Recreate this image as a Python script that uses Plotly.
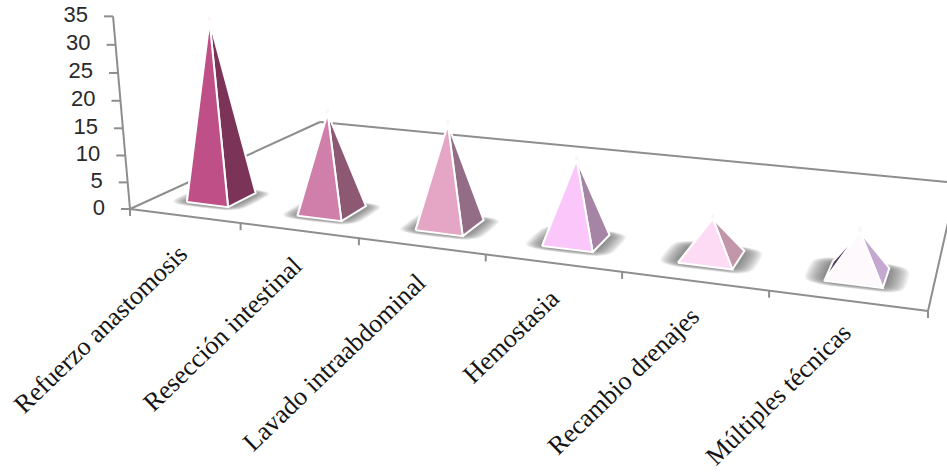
import numpy as np
import plotly.graph_objects as go

# Chart data
categories = ["Refuerzo anastomosis", "Resección intestinal", "Lavado intraabdominal",
              "Hemostasia", "Recambio drenajes", "Múltiples técnicas"]
values = [33, 18, 18, 14, 6.5, 7]
value_ticks = [0, 5, 10, 15, 20, 25, 30, 35]

# Face colours per pyramid
front_colors = ["#BE5087", "#D07FAA", "#E5A5C5", "#FBC6F9", "#FDDBF5", "#FEF9FD"]
side_colors = ["#7C3358", "#8C5872", "#936C85", "#A684A5", "#C296A9", "#C4A8CF"]
back_colors = ["#5A2540", "#5E3A4E", "#6A4A5E", "#705A70", "#806878", "#5A3F62"]

W, H = 947, 473
AXIS_COLOR = "#8E8E8E"

# Perspective set-up: floor corners and the vanishing point of the value direction
p00 = np.array([130.0, 209.0])
p10 = np.array([928.0, 311.0])
p01 = np.array([320.0, 122.0])
p11 = np.array([957.0, 183.0])
Z_VANISH = np.array([553.0, 5020.0])
Z_STRENGTH = -0.0011


def _det(a, b):
    return a[0] * b[1] - a[1] * b[0]


d1 = p10 - p11
d2 = p01 - p11
s = p00 - p10 + p11 - p01
den = _det(d1, d2)
g = _det(s, d2) / den
h = _det(d1, s) / den
A = p10 * (1 + g) - p00
B = p01 * (1 + h) - p00


def project(u, v, z=0.0):
    """Map category position u (0..1), depth v (0..1) and value z to the plane."""
    w = 1 + g * u + h * v + Z_STRENGTH * z
    xy = p00 + A * u + B * v + Z_VANISH * Z_STRENGTH * z
    return xy / w


def poly(points, fill, line_color=None, line_width=0):
    xs = [p[0] for p in points] + [points[0][0]]
    ys = [p[1] for p in points] + [points[0][1]]
    return go.Scatter(
        x=xs, y=ys, mode="lines", fill="toself", fillcolor=fill,
        line=dict(color=line_color or "rgba(0,0,0,0)", width=line_width),
        hoverinfo="skip", showlegend=False,
    )


def segment(a, b, color=AXIS_COLOR, width=2):
    return go.Scatter(
        x=[a[0], b[0]], y=[a[1], b[1]], mode="lines",
        line=dict(color=color, width=width),
        hoverinfo="skip", showlegend=False,
    )


fig = go.Figure()

# Floor outline
for a, b in [((0, 0), (1, 0)), ((0, 0), (0, 1)), ((0, 1), (1, 1)), ((1, 0), (1, 1))]:
    fig.add_trace(segment(project(*a), project(*b)))

# Value axis with its ticks
fig.add_trace(segment(project(0, 0), project(0, 0, value_ticks[-1])))
for t in value_ticks:
    p = project(0, 0, t)
    fig.add_trace(segment(p, p + np.array([-9, 0])))
fig.add_trace(go.Scatter(
    x=[project(0, 0, t)[0] - 25 for t in value_ticks],
    y=[project(0, 0, t)[1] for t in value_ticks],
    mode="text", text=[str(t) for t in value_ticks], textposition="middle left",
    textfont=dict(family="Liberation Sans", size=22, color="#2A2A2A"),
    hoverinfo="skip", showlegend=False,
))

# Category ticks along the front edge
n = len(categories)
for i in range(n + 1):
    p = project(i / n, 0)
    fig.add_trace(segment(p, p + np.array([0, 7])))

HALF_U = 0.19 / n
V_CENTER = 0.17
HALF_V = 0.067

# Soft shadows on the floor: stacked translucent rounded outlines
theta = np.linspace(0, 2 * np.pi, 32, endpoint=False)
for i in range(n):
    uc = (i + 0.5) / n
    for k in np.linspace(1.75, 1.0, 16):
        hu, hv = HALF_U * k, HALF_V * (0.55 + 0.5 * k)
        c, sn = np.cos(theta), np.sin(theta)
        outline = [
            project(uc + hu * np.sign(a) * abs(a) ** 0.45, V_CENTER + hv * np.sign(b) * abs(b) ** 0.45)
            for a, b in zip(c, sn)
        ]
        fig.add_trace(poly(outline, "rgba(80,80,80,0.07)"))

# Pyramids, back faces first
for i in range(n):
    uc = (i + 0.5) / n
    fl = project(uc - HALF_U, V_CENTER - HALF_V)
    fr = project(uc + HALF_U, V_CENTER - HALF_V)
    br = project(uc + HALF_U, V_CENTER + HALF_V)
    bl = project(uc - HALF_U, V_CENTER + HALF_V)
    apex = project(uc, V_CENTER, values[i])
    fig.add_trace(poly([fl, bl, apex], back_colors[i], "white", 2))
    fig.add_trace(poly([fr, br, apex], side_colors[i], "white", 2))
    fig.add_trace(poly([fl, fr, apex], front_colors[i], "white", 2))
    # Pale highlight running off the tip
    fig.add_trace(segment(apex, project(uc, V_CENTER, values[i] + 0.8), "#FBF4F8", 3))

# Slanted category labels
label_centers = [(100, 329), (222, 334), (334, 362), (511, 336), (623, 381), (778, 394)]
for name, (cx, cy) in zip(categories, label_centers):
    fig.add_annotation(
        x=cx, y=cy, xref="x", yref="y", text=name, showarrow=False, textangle=-44,
        xanchor="center", yanchor="middle",
        font=dict(family="Liberation Serif", size=26, color="#141414"),
    )

fig.update_layout(
    width=W, height=H, margin=dict(l=0, r=0, t=0, b=0),
    paper_bgcolor="white", plot_bgcolor="white", showlegend=False,
    xaxis=dict(range=[0, W], visible=False, fixedrange=True),
    yaxis=dict(range=[H, 0], visible=False, fixedrange=True),
)
fig.write_html("out.html", config={"displayModeBar": False})
